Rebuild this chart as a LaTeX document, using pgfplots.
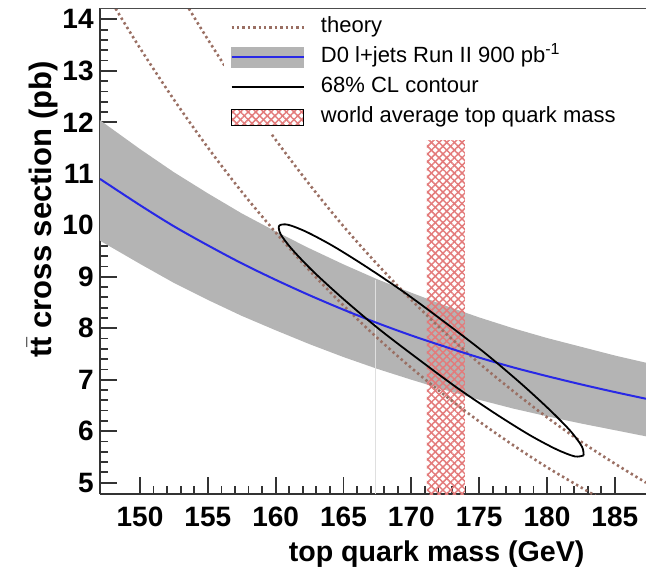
\documentclass[border=0pt]{standalone}
\usepackage{fontspec}
\setmainfont{Liberation Sans}
\usepackage{pgfplots}
\pgfplotsset{compat=1.18}
\usetikzlibrary{patterns.meta}
\definecolor{bandgray}{HTML}{B4B4B4}
\definecolor{theorybrown}{HTML}{9A6F63}
\definecolor{hatchred}{HTML}{E37B7B}
\definecolor{fitblue}{HTML}{2828E6}
\tikzset{theory/.style={theorybrown, line width=1.3pt, dash pattern=on 1.2pt off 1.5pt}}

\begin{document}
\begin{tikzpicture}
\begin{axis}[
    scale only axis,
    width=273pt, height=243pt,
    xmin=147.05, xmax=187.3, ymin=4.78, ymax=14.22,
    axis x line*=bottom, axis y line*=left,
    axis line style={line width=1pt, black!80},
    xtick={150,155,...,185}, ytick={5,...,14},
    minor x tick num=4, minor y tick num=4,
    tick align=inside,
    major tick length=8.5pt, minor tick length=4.2pt,
    tick style={black!80, line width=0.9pt},
    tick label style={font=\fontsize{14}{14}\selectfont\bfseries, inner sep=0pt},
    /pgf/number format/assume math mode=true,
    yticklabel style={xshift=-3pt},
    xticklabel style={yshift=-6.5pt},
    xlabel={top quark mass (GeV)},
    ylabel={t$\bar{\mbox{t}}$ cross section (pb)},
    xlabel style={at={(axis description cs:0.888,-0.095)}, anchor=north east, inner sep=0pt,
        font=\fontsize{14.3}{14.3}\selectfont\bfseries},
    ylabel style={at={(axis description cs:-0.134,0.891)}, anchor=north east, inner sep=0pt,
        font=\fontsize{15.5}{15.5}\selectfont\bfseries},
    legend style={at={(axis description cs:0.227,0.995)}, anchor=north west,
        draw=none, fill=white, inner xsep=3pt, inner ysep=2pt,
        font=\fontsize{11}{11}\selectfont, row sep=2.5pt,
        nodes={inner sep=1pt, text height=8pt, text depth=2.5pt},
        /tikz/every odd column/.append style={column sep=7pt}},
    legend cell align=left,
]
% legend entries
\addlegendimage{legend image code/.code={\draw[theory] (0pt,0pt) -- (36pt,0pt);}}
\addlegendentry{theory}
\addlegendimage{legend image code/.code={
    \fill[bandgray] (0pt,-5pt) rectangle (36pt,5pt);
    \draw[fitblue, line width=1pt] (0pt,0pt) -- (36pt,0pt);}}
\addlegendentry{D0 l+jets Run II 900 pb$^{\mbox{\fontsize{8}{8}\selectfont -1}}$}
\addlegendimage{legend image code/.code={\draw[black, line width=0.9pt] (0pt,0pt) -- (36pt,0pt);}}
\addlegendentry{68\% CL contour}
\addlegendimage{legend image code/.code={
    \fill[pattern={Lines[angle=45,distance=2.7pt,line width=0.75pt]}, pattern color=hatchred] (0pt,-3.8pt) rectangle (36pt,3.8pt);
    \fill[pattern={Lines[angle=-45,distance=2.7pt,line width=0.75pt]}, pattern color=hatchred] (0pt,-3.8pt) rectangle (36pt,3.8pt);}}
\addlegendentry{world average top quark mass}

% measured cross section band
\addplot[fill=bandgray, draw=none, forget plot] coordinates {
    (147.05,12.04) (150,11.48) (152.5,11.03) (155,10.62) (157.5,10.23) (160,9.88)
    (162.5,9.55) (165,9.24) (167.5,8.95) (170,8.69) (172.5,8.44) (175,8.21)
    (177.5,8.00) (180,7.81) (182.5,7.64) (185,7.47) (187.3,7.33)
    (187.3,5.90) (185,6.02) (182.5,6.15) (180,6.29) (177.5,6.44) (175,6.61)
    (172.5,6.80) (170,7.00) (167.5,7.21) (165,7.44) (162.5,7.69) (160,7.96)
    (157.5,8.24) (155,8.55) (152.5,8.88) (150,9.25) (147.05,9.70)
} -- cycle;
\addplot[gray!25, line width=0.5pt, forget plot] coordinates {(167.35,4.78) (167.35,8.93)};

% world average top mass
\addplot[draw=none, pattern={Lines[angle=45,distance=2.7pt,line width=0.75pt]}, pattern color=hatchred, forget plot]
    coordinates {(171.15,4.78) (171.15,11.65) (173.95,11.65) (173.95,4.78)} -- cycle;
\addplot[draw=none, pattern={Lines[angle=-45,distance=2.7pt,line width=0.75pt]}, pattern color=hatchred, forget plot]
    coordinates {(171.15,4.78) (171.15,11.65) (173.95,11.65) (173.95,4.78)} -- cycle;

% theory
\addplot[theory, smooth, forget plot] coordinates {
    (148.2,14.21) (150,13.44) (152.5,12.44) (155,11.51) (157.5,10.65) (160,9.86)
    (162.5,9.12) (165,8.44) (167.5,7.81) (170,7.23) (172.5,6.69) (175,6.19)
    (177.5,5.73) (180,5.30) (182.5,4.91) (184.0,4.68)
};
\addplot[theory, smooth, forget plot] coordinates {
    (153.6,14.21) (155,13.61) (157.5,12.59) (160,11.66) (162.5,10.79) (165,9.98)
    (167.5,9.24) (170,8.55) (172.5,7.91) (175,7.32) (177.5,6.78) (180,6.27)
    (182.5,5.80) (185,5.37) (187.3,5.00)
};

% measured cross section vs mass
\addplot[fitblue, line width=1pt, smooth, forget plot] coordinates {
    (147.05,10.90) (150,10.39) (152.5,9.98) (155,9.61) (157.5,9.26) (160,8.94)
    (162.5,8.64) (165,8.36) (167.5,8.10) (170,7.86) (172.5,7.64) (175,7.43)
    (177.5,7.24) (180,7.07) (182.5,6.91) (185,6.76) (187.3,6.63)
};

% 68% CL contour
\addplot[black, line width=0.9pt, smooth, forget plot] coordinates {
    (182.70,5.53) (182.05,5.51) (180.68,5.65) (178.69,5.93) (176.20,6.34) (173.39,6.84)
    (170.46,7.41) (167.59,7.99) (164.98,8.57) (162.82,9.09) (161.25,9.52) (160.38,9.82)
    (160.26,9.99) (160.91,10.01) (162.28,9.87) (164.27,9.59) (166.76,9.18) (169.57,8.68)
    (172.50,8.11) (175.37,7.53) (177.98,6.95) (180.14,6.43) (181.71,6.01) (182.58,5.70)
    (182.70,5.53)
};

\draw[line width=1pt, black!70] (rel axis cs:0,1) -- (rel axis cs:1,1);
\coordinate (bl) at (axis description cs:-0.18315,-0.1646);
\coordinate (tr) at (axis description cs:1,1.01646);
\end{axis}
\pgfresetboundingbox
\path (bl) rectangle (tr);
\end{tikzpicture}
\end{document}
